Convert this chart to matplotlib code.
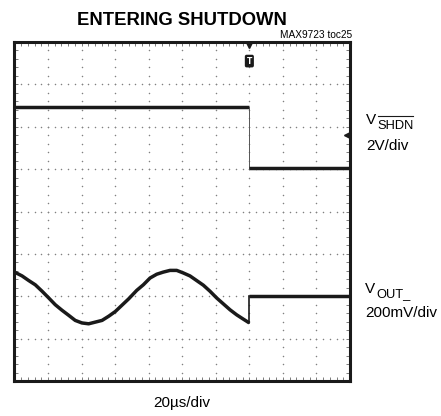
import numpy as np
import matplotlib
matplotlib.use('Agg')
import matplotlib.pyplot as plt
from matplotlib.lines import Line2D

# scope capture, x in microseconds (20us/div), y in screen divisions (0..8)
shdn_t = [0, 140, 140, 200]
shdn_div = [6.46, 6.46, 5.03, 5.03]

vout_t = [0, 4.5, 8.5, 12.4, 16.4, 20.4, 24.3, 28.3, 32.3, 36.2, 40.2, 44.2,
          48.2, 52.2, 56.2, 60.1, 64.1, 68.1, 72.9, 76.8, 80.8, 84.8, 88.7, 92.7,
          96.7, 100.6, 104.6, 108.6, 112.6, 116.5, 120.5, 124.5, 128.5, 132.5,
          136.4, 140]
vout_div = [2.57, 2.48, 2.37, 2.27, 2.12, 1.96, 1.80, 1.67, 1.55, 1.43, 1.37, 1.35,
            1.39, 1.43, 1.53, 1.64, 1.79, 1.94, 2.14, 2.27, 2.43, 2.52, 2.57, 2.61,
            2.61, 2.55, 2.48, 2.37, 2.26, 2.12, 1.96, 1.82, 1.68, 1.56,
            1.46, 1.37]
vout_after_t = [140, 200]
vout_after_div = [2.0, 2.0]

trig_t = 140
marker_div = 5.81

W, H = 441, 416
fig = plt.figure(figsize=(W / 100, H / 100), dpi=100)
ax = fig.add_axes([14.5 / W, 1 - 381 / H, (350 - 14.5) / W, (381 - 42) / H])
ax.set_xlim(0, 200)
ax.set_ylim(0, 8)

# dotted graticule
for gx in range(20, 200, 20):
    yy = np.arange(0, 8.01, 0.2)
    ax.plot([gx] * len(yy), yy, ls='none', marker='o', ms=1.1, color='#808080', mew=0)
for gy in range(1, 8):
    xx = np.arange(0, 200.01, 4)
    ax.plot(xx, [gy] * len(xx), ls='none', marker='o', ms=1.1, color='#808080', mew=0)

ax.set_xticks(np.arange(0, 200.01, 4))
ax.set_yticks(np.arange(0, 8.01, 0.2))
ax.tick_params(direction='in', length=3, width=0.6, color='#666666',
               top=True, right=True, labelbottom=False, labelleft=False)
for s in ax.spines.values():
    s.set_linewidth(2.2)
    s.set_color('#1a1a1a')

trace = dict(color='#1a1a1a', lw=2.5, solid_capstyle='butt', solid_joinstyle='round')
# SHDN trace
ax.plot(shdn_t[:2], shdn_div[:2], **trace)
ax.plot(shdn_t[1:3], shdn_div[1:3], color='#555555', lw=0.7)
ax.plot(shdn_t[2:], shdn_div[2:], **trace)
# VOUT trace
ax.plot(vout_t, vout_div, **trace)
ax.plot([vout_t[-1], vout_after_t[0]], [vout_div[-1], vout_after_div[0]], color='#1a1a1a', lw=1.2)
ax.plot(vout_after_t, vout_after_div, **trace)

# trigger and level markers
ax.plot([trig_t], [7.93], marker='v', ms=4, color='#1a1a1a', clip_on=False)
ax.text(trig_t, 7.55, 'T', ha='center', va='center', color='white', fontsize=5.5,
        fontweight='bold', bbox=dict(boxstyle='round,pad=0.15', fc='#1a1a1a', ec='#1a1a1a'))
ax.plot([198.4], [marker_div], marker='<', ms=5, color='#1a1a1a', clip_on=False)

reg = ['Liberation Sans', 'DejaVu Sans']
fig.text(182 / W, 1 - 25 / H, 'ENTERING SHUTDOWN', ha='center', va='baseline',
         fontsize=13.3, fontweight='bold', family=reg)
fig.text(352 / W, 1 - 38 / H, 'MAX9723 toc25', ha='right', va='baseline', fontsize=7.3, family=reg)

fig.text(366 / W, 1 - 124 / H, 'V', ha='left', va='baseline', fontsize=11, family=reg)
fig.text(377.5 / W, 1 - 129 / H, 'SHDN', ha='left', va='baseline', fontsize=9.3, family=reg)
fig.add_artist(Line2D([377.5 / W, 413 / W], [1 - 116 / H, 1 - 116 / H], color='#1a1a1a', lw=0.8))
fig.text(366 / W, 1 - 150 / H, '2V/div', ha='left', va='baseline', fontsize=11, family=reg)

fig.text(365 / W, 1 - 293 / H, 'V', ha='left', va='baseline', fontsize=11, family=reg)
fig.text(376.5 / W, 1 - 297 / H, 'OUT_', ha='left', va='baseline', fontsize=9.3, family=reg)
fig.text(365 / W, 1 - 317 / H, '200mV/div', ha='left', va='baseline', fontsize=11, family=reg)

fig.text(182 / W, 1 - 407 / H, '20\u00b5s/div', ha='center', va='baseline', fontsize=11, family=reg)

fig.savefig('out.png', dpi=100, facecolor='white')
